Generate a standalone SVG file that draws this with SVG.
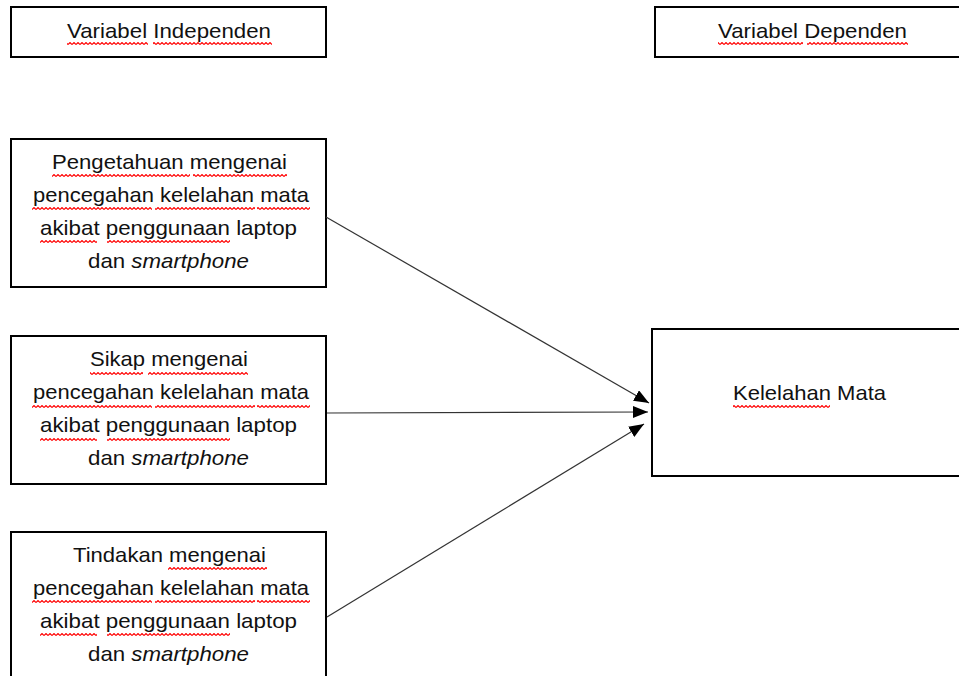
<svg xmlns="http://www.w3.org/2000/svg" width="959" height="676" viewBox="0 0 959 676">
<style>
.box{fill:#fff;stroke:#000;stroke-width:2}
.t{font-family:"Liberation Sans","Open Sans",sans-serif;font-size:21px;fill:#111;text-anchor:start}
.it{font-style:italic}
.conn{stroke:#333;stroke-width:1.2;fill:none;marker-end:url(#ah)}
.w{fill:url(#wave)}
</style>
<defs>
<marker id="ah" markerUnits="userSpaceOnUse" markerWidth="16" markerHeight="13" refX="15" refY="6" orient="auto">
<path d="M0,0 L15,6 L0,12 z" fill="#000"/>
</marker>
<pattern id="wave" patternUnits="userSpaceOnUse" x="0" y="0" width="4" height="3">
<polyline points="0,2.5 2,0.5 4,2.5" fill="none" stroke="#f00" stroke-width="1.1"/>
</pattern>
</defs>

<g id="header-independen">
<rect class="box" x="11" y="7" width="315" height="50"/>
<text class="t" x="67" y="38" textLength="204" lengthAdjust="spacingAndGlyphs">Variabel Independen</text>
<rect class="w" x="67" y="42" width="81" height="3"/>
<rect class="w" x="153" y="42" width="119" height="3"/>
</g>

<g id="header-dependen">
<rect class="box" x="655" y="7" width="320" height="50"/>
<text class="t" x="718" y="38" textLength="189" lengthAdjust="spacingAndGlyphs">Variabel Dependen</text>
<rect class="w" x="718" y="42" width="85" height="3"/>
<rect class="w" x="807" y="42" width="101" height="3"/>
</g>

<g id="node-pengetahuan">
<rect class="box" x="11" y="139" width="315" height="148"/>
<text class="t" x="52" y="169" textLength="235" lengthAdjust="spacingAndGlyphs">Pengetahuan mengenai</text>
<text class="t" x="33" y="202" textLength="276" lengthAdjust="spacingAndGlyphs">pencegahan kelelahan mata</text>
<text class="t" x="40" y="235" textLength="257" lengthAdjust="spacingAndGlyphs">akibat penggunaan laptop</text>
<text class="t" x="88" y="268" textLength="161" lengthAdjust="spacingAndGlyphs">dan <tspan class="it">smartphone</tspan></text>
<rect class="w" x="52" y="174" width="138" height="3"/>
<rect class="w" x="193" y="174" width="94" height="3"/>
<rect class="w" x="32" y="207" width="120" height="3"/>
<rect class="w" x="155" y="207" width="100" height="3"/>
<rect class="w" x="257" y="207" width="53" height="3"/>
<rect class="w" x="40" y="240" width="57" height="3"/>
<rect class="w" x="107" y="240" width="123" height="3"/>
</g>

<g id="node-sikap">
<rect class="box" x="11" y="336" width="315" height="148"/>
<text class="t" x="90" y="366" textLength="158" lengthAdjust="spacingAndGlyphs">Sikap mengenai</text>
<text class="t" x="33" y="399" textLength="276" lengthAdjust="spacingAndGlyphs">pencegahan kelelahan mata</text>
<text class="t" x="40" y="432" textLength="257" lengthAdjust="spacingAndGlyphs">akibat penggunaan laptop</text>
<text class="t" x="88" y="465" textLength="161" lengthAdjust="spacingAndGlyphs">dan <tspan class="it">smartphone</tspan></text>
<rect class="w" x="90" y="372" width="53" height="3"/>
<rect class="w" x="148" y="372" width="100" height="3"/>
<rect class="w" x="32" y="405" width="120" height="3"/>
<rect class="w" x="155" y="405" width="100" height="3"/>
<rect class="w" x="257" y="405" width="53" height="3"/>
<rect class="w" x="40" y="438" width="57" height="3"/>
<rect class="w" x="107" y="438" width="123" height="3"/>
</g>

<g id="node-tindakan">
<rect class="box" x="11" y="532" width="315" height="160"/>
<text class="t" x="73" y="562" textLength="193" lengthAdjust="spacingAndGlyphs">Tindakan mengenai</text>
<text class="t" x="33" y="595" textLength="276" lengthAdjust="spacingAndGlyphs">pencegahan kelelahan mata</text>
<text class="t" x="40" y="628" textLength="257" lengthAdjust="spacingAndGlyphs">akibat penggunaan laptop</text>
<text class="t" x="88" y="661" textLength="161" lengthAdjust="spacingAndGlyphs">dan <tspan class="it">smartphone</tspan></text>
<rect class="w" x="168" y="567" width="99" height="3"/>
<rect class="w" x="32" y="600" width="120" height="3"/>
<rect class="w" x="155" y="600" width="100" height="3"/>
<rect class="w" x="257" y="600" width="53" height="3"/>
<rect class="w" x="40" y="633" width="57" height="3"/>
<rect class="w" x="107" y="633" width="123" height="3"/>
</g>

<g id="node-kelelahan">
<rect class="box" x="652" y="329" width="320" height="147"/>
<text class="t" x="733" y="400" textLength="153" lengthAdjust="spacingAndGlyphs">Kelelahan Mata</text>
<rect class="w" x="733" y="405" width="97" height="3"/>
</g>

<g id="connectors">
<line class="conn" x1="326" y1="217" x2="649" y2="403"/>
<line class="conn" x1="327" y1="413" x2="648" y2="412"/>
<line class="conn" x1="327" y1="617" x2="644" y2="424"/>
</g>
</svg>
